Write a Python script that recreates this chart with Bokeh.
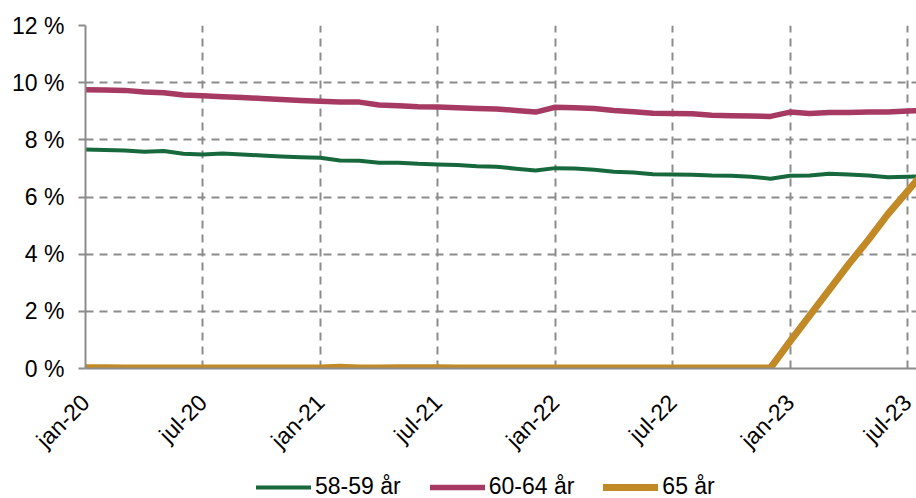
import math
from bokeh.plotting import figure
from bokeh.layouts import column
from bokeh.models import Range1d, FixedTicker, Legend, LegendItem, ColumnDataSource
from bokeh.embed import file_html
from bokeh.resources import INLINE

months = ["jan-20","feb-20","mar-20","apr-20","mai-20","jun-20","jul-20","aug-20","sep-20","okt-20","nov-20","des-20",
          "jan-21","feb-21","mar-21","apr-21","mai-21","jun-21","jul-21","aug-21","sep-21","okt-21","nov-21","des-21",
          "jan-22","feb-22","mar-22","apr-22","mai-22","jun-22","jul-22","aug-22","sep-22","okt-22","nov-22","des-22",
          "jan-23","feb-23","mar-23","apr-23","mai-23","jun-23","jul-23","aug-23"]

age_58_59 = [7.66, 7.64, 7.63, 7.58, 7.61, 7.51, 7.49, 7.52, 7.49, 7.45, 7.42, 7.39,
             7.37, 7.28, 7.27, 7.20, 7.20, 7.16, 7.14, 7.12, 7.08, 7.06, 6.99, 6.93,
             7.01, 7.00, 6.95, 6.88, 6.86, 6.80, 6.79, 6.78, 6.75, 6.74, 6.71, 6.64,
             6.74, 6.75, 6.81, 6.79, 6.75, 6.69, 6.71, 6.72]

age_60_64 = [9.75, 9.74, 9.73, 9.67, 9.65, 9.57, 9.54, 9.51, 9.48, 9.45, 9.41, 9.38,
             9.35, 9.32, 9.32, 9.22, 9.19, 9.16, 9.15, 9.12, 9.10, 9.08, 9.03, 8.97,
             9.14, 9.12, 9.10, 9.03, 8.98, 8.93, 8.92, 8.91, 8.86, 8.84, 8.83, 8.82,
             8.97, 8.92, 8.96, 8.96, 8.97, 8.97, 9.01, 9.03]

age_65 = [0.03, 0.03, 0.02, 0.02, 0.02, 0.02, 0.02, 0.02, 0.02, 0.02, 0.02, 0.02,
          0.02, 0.04, 0.02, 0.02, 0.03, 0.03, 0.03, 0.02, 0.02, 0.02, 0.02, 0.02,
          0.02, 0.02, 0.02, 0.02, 0.02, 0.02, 0.02, 0.02, 0.02, 0.02, 0.02, 0.02,
          0.95, 1.85, 2.75, 3.65, 4.50, 5.40, 6.20, 7.00]

series_names = ["58-59 år", "60-64 år", "65 år"]
series_colors = ["#17693d", "#a63a62", "#c28a26"]
series_widths = [4, 5.5, 7]

x_tick_idx = [0, 6, 12, 18, 24, 30, 36, 42]
y_ticks = [0, 2, 4, 6, 8, 10, 12]

x = list(range(len(months)))
src = ColumnDataSource(dict(x=x, a=age_58_59, b=age_60_64, c=age_65))

p = figure(frame_width=831, frame_height=343, output_backend="svg", toolbar_location=None,
           x_range=Range1d(0, 42.46), y_range=Range1d(0, 12),
           min_border_left=85, min_border_right=0, min_border_top=25, min_border_bottom=95)
p.outline_line_color = None
p.background_fill_color = "white"
p.border_fill_color = "white"

FONT = "Liberation Sans"
GRID = "#8c8c8c"
FS = "23px"

for col, color, w in zip(["a", "b", "c"], series_colors, series_widths):
    p.line("x", col, source=src, line_color=color, line_width=w, line_join="round", line_cap="round")

xa = p.xaxis[0]
xa.ticker = FixedTicker(ticks=x_tick_idx)
xa.major_label_overrides = {i: months[i] for i in x_tick_idx}
xa.major_label_orientation = math.pi / 4
xa.major_label_text_font = FONT
xa.major_label_text_font_size = FS
xa.major_label_text_color = "black"
xa.major_tick_out = 0
xa.major_tick_in = 0
xa.minor_tick_out = 0
xa.minor_tick_in = 0
xa.axis_line_color = GRID
xa.axis_line_width = 2
xa.major_label_standoff = 30

ya = p.yaxis[0]
ya.ticker = FixedTicker(ticks=y_ticks)
ya.major_label_overrides = {v: f"{v} %" for v in y_ticks}
ya.major_label_text_font = FONT
ya.major_label_text_font_size = FS
ya.major_label_text_color = "black"
ya.major_tick_out = 7
ya.major_tick_in = 0
ya.minor_tick_out = 0
ya.minor_tick_in = 0
ya.major_tick_line_color = GRID
ya.major_tick_line_width = 2
ya.axis_line_color = GRID
ya.axis_line_width = 2
ya.major_label_standoff = 14

p.xgrid.ticker = FixedTicker(ticks=x_tick_idx)
p.ygrid.ticker = FixedTicker(ticks=y_ticks)
for g in (p.xgrid[0], p.ygrid[0]):
    g.grid_line_color = GRID
    g.grid_line_width = 2
    g.grid_line_dash = "8 6"

# legend strip as a separate small figure (legend lines kept outside its visible range)
lf = figure(width=916, height=35, output_backend="svg", toolbar_location=None,
            x_range=Range1d(0, 1), y_range=Range1d(0, 1),
            min_border_left=0, min_border_right=0, min_border_top=0, min_border_bottom=0)
lf.axis.visible = False
lf.grid.visible = False
lf.outline_line_color = None
lrs = []
for color, w in zip(series_colors, series_widths):
    lrs.append(lf.line(x=[5, 6], y=[5, 6], line_color=color, line_width=w, line_cap="round"))

legend = Legend(items=[LegendItem(label=n, renderers=[r]) for n, r in zip(series_names, lrs)],
                orientation="horizontal", location=(171, 0))
legend.label_text_font = FONT
legend.label_text_font_size = FS
legend.label_text_color = "black"
legend.glyph_width = 55
legend.label_standoff = 4
legend.spacing = 29
legend.padding = 0
legend.margin = 0
legend.border_line_color = None
legend.background_fill_alpha = 0
lf.add_layout(legend, "center")

layout = column(p, lf, spacing=0)
open("out.html", "w").write(file_html(layout, INLINE))
